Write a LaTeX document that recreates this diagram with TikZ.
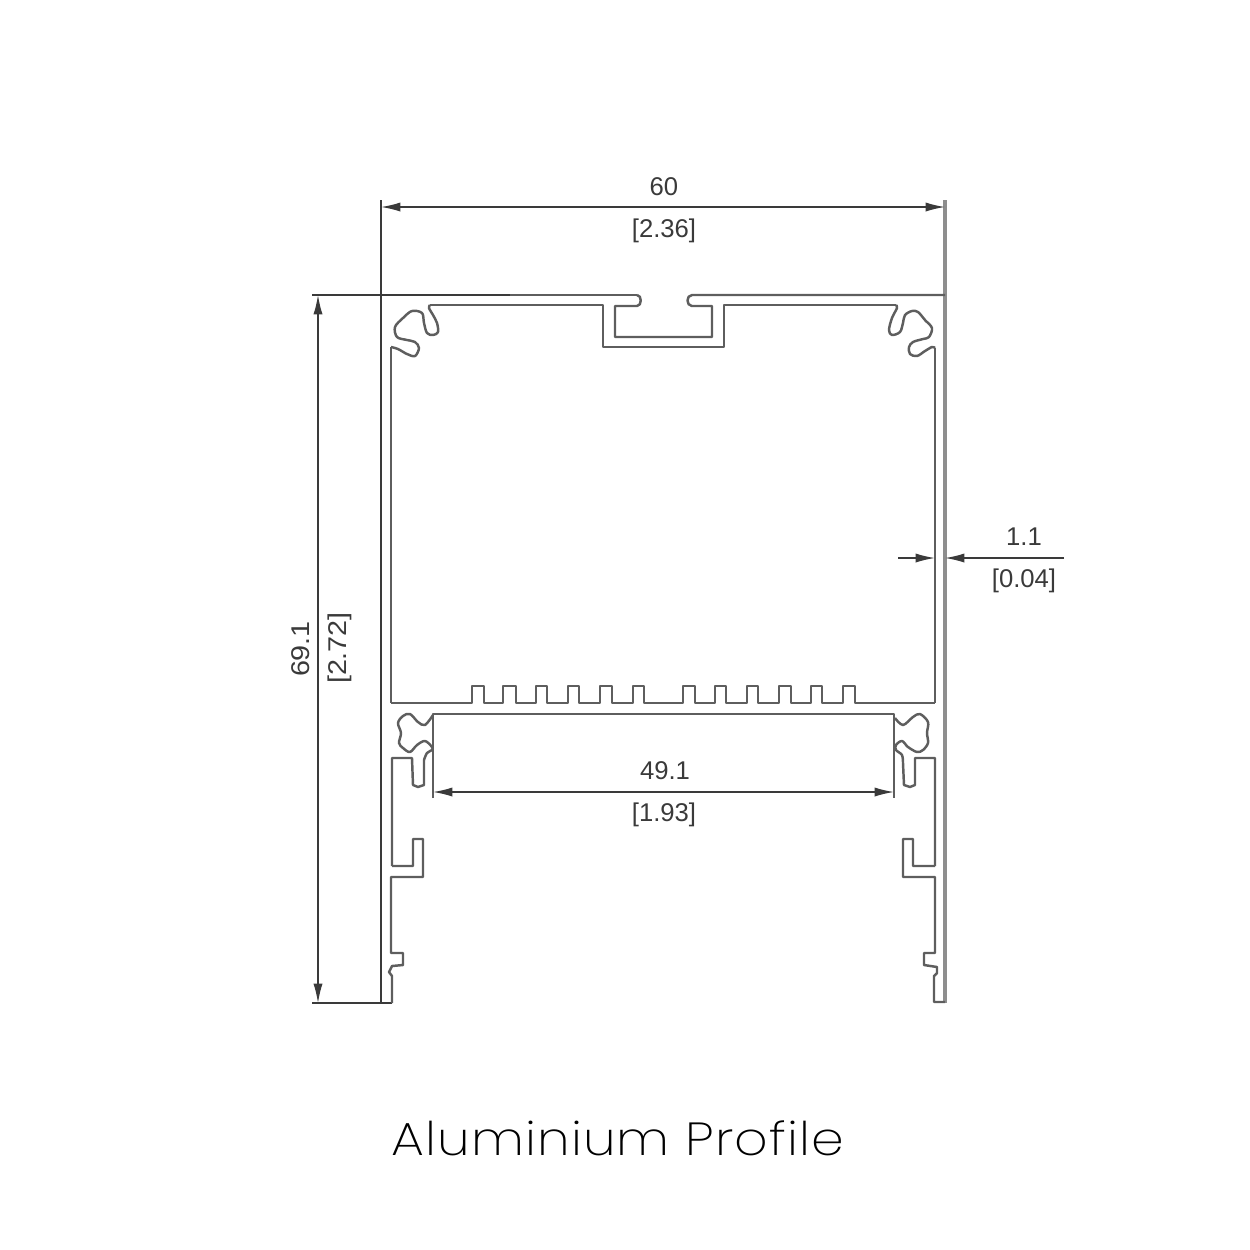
\documentclass[tikz,border=0pt]{standalone}
\usepackage{fontspec}
\setmainfont{Liberation Sans}
\newfontfamily\titlefont[LetterSpace=2]{Poppins ExtraLight}
\usetikzlibrary{arrows.meta}
\definecolor{wallgrey}{HTML}{5E5E5E}
\definecolor{dimgrey}{HTML}{3A3A3A}
\tikzset{
    wall/.style={draw=wallgrey, line width=0.7pt, line join=round},
    dimline/.style={draw=dimgrey, line width=0.4pt, {Latex[length=5.5pt,width=2.6pt]}-{Latex[length=5.5pt,width=2.6pt]}},
    dimend/.style={draw=dimgrey, line width=0.4pt, -{Latex[length=5.5pt,width=2.6pt]}},
    extline/.style={draw=dimgrey, line width=0.5pt},
    dimtext/.style={text=dimgrey, font=\fontsize{7.3}{9}\selectfont, inner sep=0pt},
}
\begin{document}
\begin{tikzpicture}[x=0.01cm, y=-0.01cm]
        \useasboundingbox (0,0) rectangle (1250,1250);
        % Outer walls and extension lines
        \draw[extline] (381,200) -- (381,1003);
        \draw[wall, draw=wallgrey!70, line width=0.9pt] (945,200) -- (945,1003);
        \draw[extline] (312,295) -- (510,295);
        \draw[wall] (510,295) -- (637,295);
        \draw[extline] (312,1003) -- (392,1003);
        \draw[extline] (935,525) -- (935,560);
        % Top channel
        \draw[wall] (637,295) .. controls (642,295) and (642,306) .. (637,306) -- (615,306) -- (615,337) -- (712,337) -- (712,306) -- (692,306) .. controls (686,306) and (686,295) .. (692,295) -- (945,295);
        \draw[wall] (430,305) -- (603,305) -- (603,347) -- (724,347) -- (724,305) -- (896,305);
        % Upper claws
        \draw[wall] plot[smooth, tension=0.55] coordinates {(430,305) (429,308) (433,315) (437,323) (438,332) (433,335) (427,333) (424,323) (422,313) (412,311) (403,318) (395,327) (397,337) (407,340) (415,342) (419,348) (415,356) (407,354) (398,349) (391,347)};
        \draw[wall] (391,347) -- (391,703);
        \draw[wall] plot[smooth, tension=0.55] coordinates {(896,305) (897,308) (892,318) (889,330) (892,335) (900,332) (903,323) (905,315) (912,311) (918,312) (925,320) (932,328) (929,337) (923,339) (913,342) (909,347) (910,354) (917,356) (925,351) (932,347) (935,348)};
        \draw[wall] (935,348) -- (935,703);
        % Fins on the floor
        \draw[wall] (391,703) -- (472,703)
            -- (472,686) -- (484,686) -- (484,703) -- (503,703)
            -- (503,686) -- (516,686) -- (516,703) -- (536,703)
            -- (536,686) -- (547,686) -- (547,703) -- (568,703)
            -- (568,686) -- (579,686) -- (579,703) -- (600,703)
            -- (600,686) -- (612,686) -- (612,703) -- (633,703)
            -- (633,686) -- (644,686) -- (644,703) -- (683,703)
            -- (683,686) -- (695,686) -- (695,703) -- (715,703)
            -- (715,686) -- (726,686) -- (726,703) -- (747,703)
            -- (747,686) -- (758,686) -- (758,703) -- (779,703)
            -- (779,686) -- (791,686) -- (791,703) -- (811,703)
            -- (811,686) -- (822,686) -- (822,703) -- (843,703)
            -- (843,686) -- (855,686) -- (855,703) -- (935,703);
        % Lower bay
        \draw[wall] (433,798) -- (433,714) -- (894,714) -- (894,798);
        \draw[wall] plot[smooth, tension=0.55] coordinates {(433,715) (425,725) (418,722) (410,714) (403,716) (398,723) (401,733) (399,743) (403,748) (410,752) (417,745) (425,741) (432,747) (432,750) (427,753) (424,760)};
        \draw[wall] (424,760) -- (424,785) -- (418,787) -- (413,785) -- (412,758) -- (392,758) -- (392,866);
        \draw[wall] plot[smooth, tension=0.55] coordinates {(895,718) (903,725) (913,717) (920,714) (928,722) (927,733) (928,743) (923,750) (917,752) (908,747) (902,741) (896,745) (896,750) (902,755) (903,763)};
        \draw[wall] (903,763) -- (904,785) -- (910,787) -- (915,785) -- (915,758) -- (935,758) -- (935,866);
        % Left leg
        \draw[wall] (392,866) -- (413,866) -- (413,839) -- (423,839) -- (423,877) -- (391,877) -- (391,953) -- (403,953) -- (403,965) -- (392,966) -- (389,972) -- (392,976) -- (392,1003);
        % Right leg
        \draw[wall] (935,866) -- (913,866) -- (913,839) -- (903,839) -- (903,877) -- (935,877) -- (935,953) -- (924,953) -- (924,965) -- (937,967) -- (937,973) -- (934,976) -- (934,1002) -- (945,1002);
        % Dimension anchors
        \coordinate (wL) at (381,207);
        \coordinate (wR) at (945,207);
        \coordinate (hT) at (318,295);
        \coordinate (hB) at (318,1003);
        \coordinate (bL) at (433,792);
        \coordinate (bR) at (894,792);
        \coordinate (tL) at (898,558);
        \coordinate (tA) at (935,558);
        \coordinate (tR) at (1064,558);
        \coordinate (tB) at (945,558);
        \draw[dimline] (wL) -- (wR);
        \draw[dimline] (hT) -- (hB);
        \draw[dimline] (bL) -- (bR);
        \draw[dimend] (tL) -- (tA);
        \draw[dimend] (tR) -- (tB);
        % Dimension labels
        \node[dimtext] at (664,187) (w1) {60};
        \node[dimtext] at (664,231) (w2) {[2.36]};
        \node[dimtext] at (1024,537) (t1) {1.1};
        \node[dimtext] at (1024,581) (t2) {[0.04]};
        \node[dimtext] at (665,771) (b1) {49.1};
        \node[dimtext] at (664,815) (b2) {[1.93]};
        \node[dimtext, rotate=90] at (301,649) (h1) {\scalebox{1.12}[1]{69.1}};
        \node[dimtext, rotate=90] at (340,648) (h2) {\scalebox{1.12}[1]{[2.72]}};
        % Caption
        \node[inner sep=0pt, font=\fontsize{13.2}{16}\titlefont] at (618,1138) (title) {\scalebox{1.127}[1]{Aluminium Profile}};
    \end{tikzpicture}
\end{document}
